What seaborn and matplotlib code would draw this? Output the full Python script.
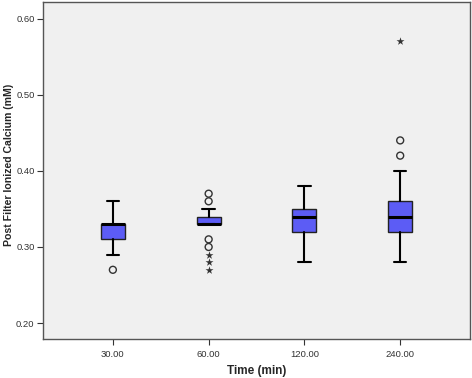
import numpy as np
import pandas as pd
import matplotlib
matplotlib.use('Agg')
import matplotlib.pyplot as plt
import seaborn as sns

# 数据
times = ['30.00', '60.00', '120.00', '240.00']
whislo = [0.29, 0.33, 0.28, 0.28]
q1 = [0.31, 0.33, 0.32, 0.32]
med = [0.33, 0.33, 0.34, 0.34]
q3 = [0.33, 0.34, 0.35, 0.36]
whishi = [0.36, 0.35, 0.38, 0.40]

# 离群点：圆圈（轻度）和星号（极端）
circle_time = ['30.00', '60.00', '60.00', '60.00', '60.00', '240.00', '240.00']
circle_val = [0.27, 0.37, 0.36, 0.31, 0.30, 0.42, 0.44]
star_time = ['60.00', '60.00', '60.00', '240.00']
star_val = [0.29, 0.28, 0.27, 0.57]

sns.set_theme(style='white')
plt.rcParams['font.family'] = ['Liberation Sans', 'DejaVu Sans']

fig = plt.figure(figsize=(4.72, 3.78), dpi=100)
ax = fig.add_axes([0.091, 0.103, 0.905, 0.892])
ax.set_facecolor('#f0f0f0')

stats = []
for i, t in enumerate(times):
    stats.append({'label': t, 'whislo': whislo[i], 'q1': q1[i], 'med': med[i],
                  'q3': q3[i], 'whishi': whishi[i], 'fliers': []})

ax.bxp(stats, positions=range(len(times)), widths=0.25, patch_artist=True,
       showfliers=False,
       boxprops=dict(facecolor='#5c5cf5', edgecolor='#222222', linewidth=1.0),
       medianprops=dict(color='black', linewidth=2.2),
       whiskerprops=dict(color='black', linewidth=1.5),
       capprops=dict(color='black', linewidth=1.5),
       capwidths=0.13)

circ = pd.DataFrame({'time': circle_time, 'val': circle_val})
star = pd.DataFrame({'time': star_time, 'val': star_val})
sns.stripplot(data=circ, x='time', y='val', order=times, jitter=False, ax=ax,
              marker='o', size=5, color='none', edgecolor='#333333', linewidth=1.0)
sns.stripplot(data=star, x='time', y='val', order=times, jitter=False, ax=ax,
              marker='*', size=6, color='#333333', linewidth=0)

ax.set_xlim(-0.73, 3.73)
ax.set_ylim(0.179, 0.622)
ax.set_yticks([0.2, 0.3, 0.4, 0.5, 0.6])
ax.set_yticklabels(['0.20', '0.30', '0.40', '0.50', '0.60'])
ax.set_xticks(range(len(times)))
ax.set_xticklabels(times)
ax.tick_params(axis='both', labelsize=6.8, colors='#333333', length=4, width=0.8,
               direction='out', bottom=True, left=True)
ax.tick_params(axis='y', pad=2)
ax.tick_params(axis='x', pad=4)
for s in ax.spines.values():
    s.set_color('#555555')
    s.set_linewidth(1.0)

ax.set_xlabel('Time (min)', fontsize=8.5, fontweight='bold')
ax.set_ylabel('Post Filter Ionized Calcium (mM)', fontsize=7.6, fontweight='bold')
ax.xaxis.set_label_coords(0.5, -0.078)
ax.yaxis.set_label_coords(-0.068, 0.516)

fig.savefig('out.png', dpi=100)
